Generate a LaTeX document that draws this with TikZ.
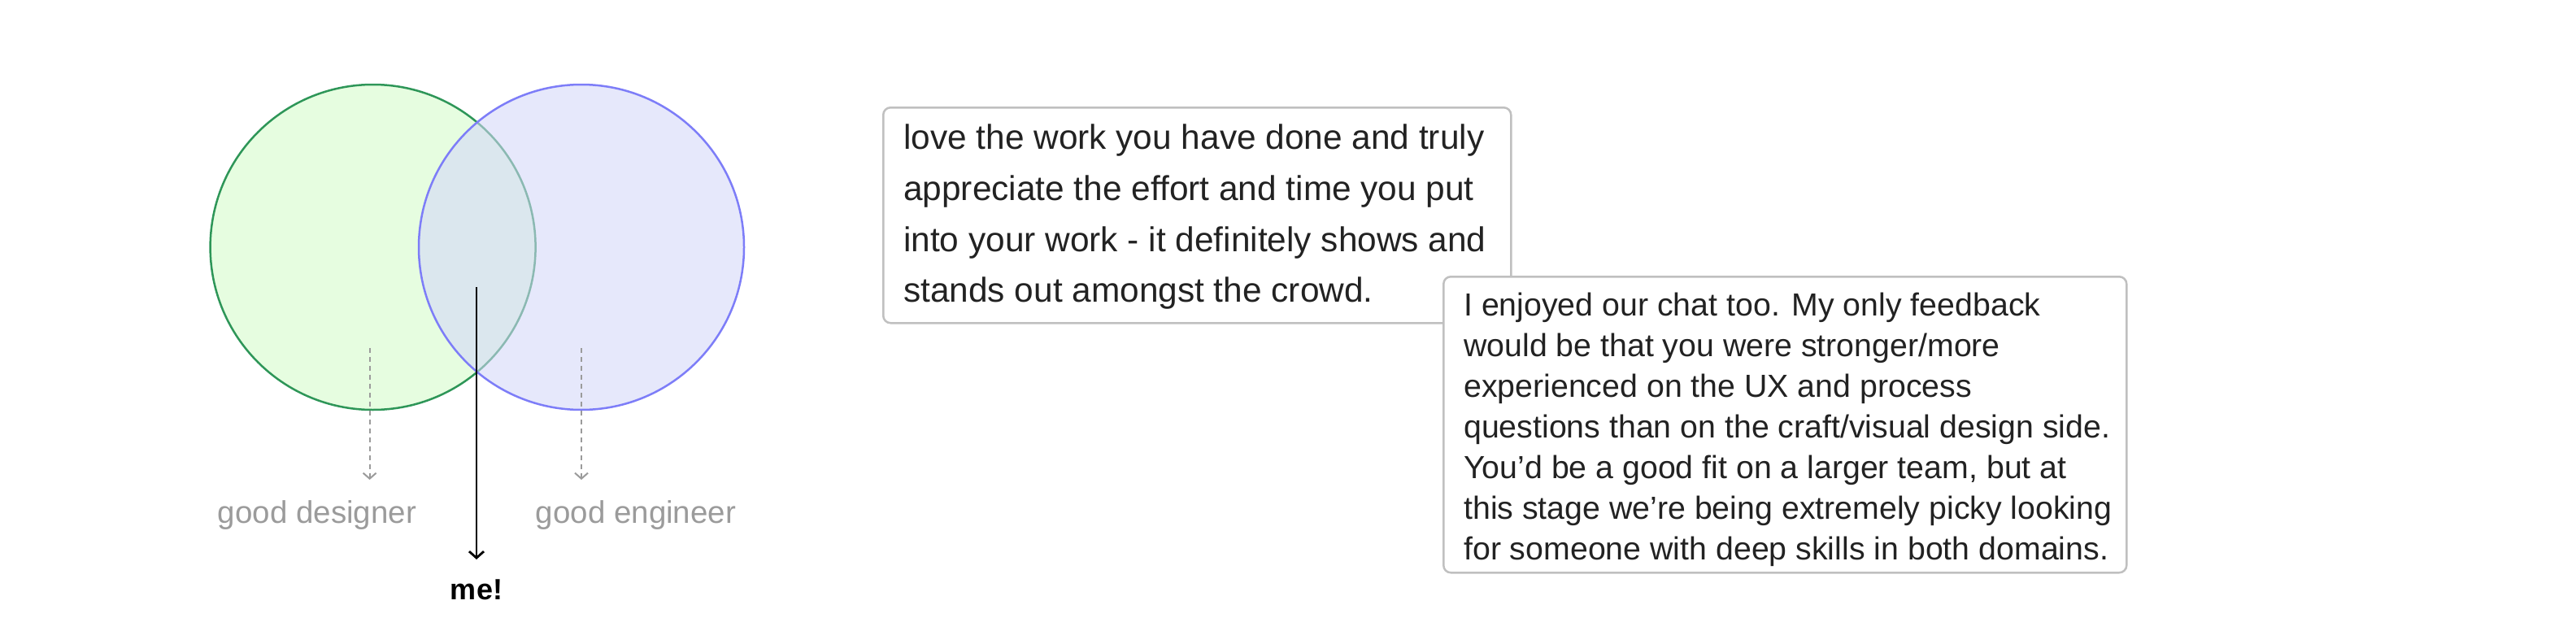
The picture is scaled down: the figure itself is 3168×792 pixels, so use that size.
\documentclass[tikz,border=0pt]{standalone}
\usepackage{fontspec}
\setmainfont{Liberation Sans}
\usetikzlibrary{arrows.meta}
\definecolor{gfill}{RGB}{230,253,224}
\definecolor{gstroke}{RGB}{46,150,88}
\definecolor{bfill}{RGB}{212,214,249}
\definecolor{bstroke}{RGB}{125,125,248}
\definecolor{boxline}{RGB}{192,192,192}
\definecolor{labgray}{RGB}{155,155,155}
\definecolor{txt}{RGB}{34,34,34}
\tikzset{
  venn/.style={circle, minimum size=400pt, inner sep=0pt, line width=2.5pt},
  lab/.style={text=labgray, font=\fontsize{38.5}{44}\selectfont, inner sep=0pt},
  quote/.style={draw=boxline, line width=2.5pt, rounded corners=9pt, fill=white, anchor=north west, inner sep=0pt},
  quotetext/.style={text=txt, align=left, anchor=west, inner sep=0pt},
  dasharrow/.style={labgray, line width=2pt, dashed, dash pattern=on 6pt off 5pt, -{Straight Barb[length=7pt,width=16pt,line width=2pt]}},
  mearrow/.style={black, line width=2.8pt, -{Straight Barb[length=8pt,width=18pt,line width=2.8pt]}}
}
\begin{document}
\begin{tikzpicture}[x=1pt,y=-1pt]
\path[use as bounding box, fill=white] (0,0) rectangle (3168,792);
\node[venn, draw=gstroke, fill=gfill] (designer) at (458.6,304) {};
\node[venn, draw=bstroke, fill=bfill, fill opacity=0.56, draw opacity=1] (engineer) at (715,304) {};
\node[lab] (dlab) at (390,634) {good designer};
\node[lab] (elab) at (782,634) {good engineer};
\node[font=\fontsize{36}{40}\selectfont\bfseries, inner sep=0pt] (me) at (586,725) {me!};
\coordinate (dstart) at (454.6,428);
\coordinate (estart) at (715,428);
\coordinate (mstart) at (586,353);
\draw[dasharrow] (dstart) -- (454.6,590);
\draw[dasharrow] (estart) -- (715,590);
\draw[mearrow] (mstart) -- (586,688);
\node[quote, minimum width=772pt, minimum height=265pt] (q1) at (1085,131) {};
\node[quotetext, font=\fontsize{42.4}{62.6}\selectfont] (q1t) at ([xshift=26pt,yshift=-2pt]q1.west) {love the work you have done and truly\\appreciate the effort and time you put\\into your work - it definitely shows and\\stands out amongst the crowd.};
\node[quote, minimum width=840pt, minimum height=364pt] (q2) at (1774,339) {};
\node[quotetext, font=\fontsize{39.3}{50}\selectfont] (q2t) at ([xshift=26pt,yshift=-6pt]q2.west) {I enjoyed our chat too. My only feedback\\would be that you were stronger/more\\experienced on the UX and process\\questions than on the craft/visual design side.\\You’d be a good fit on a larger team, but at\\this stage we’re being extremely picky looking\\for someone with deep skills in both domains.};
\end{tikzpicture}
\end{document}
